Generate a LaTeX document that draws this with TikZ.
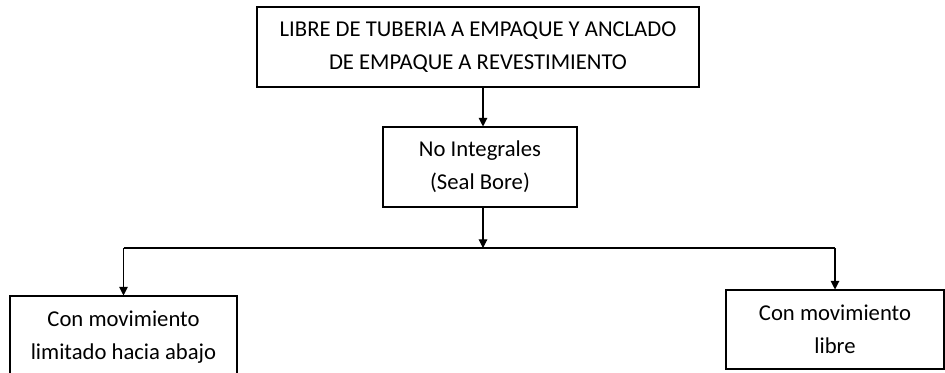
\documentclass[tikz,border=0pt]{standalone}
\usepackage{fontspec}
\setmainfont{Carlito}
\usetikzlibrary{arrows.meta}

\begin{document}
\begin{tikzpicture}[x=0.75pt, y=-0.75pt,
        caja/.style={draw, line width=0.8pt, inner sep=0pt, align=center,
            font=\fontsize{17}{25}\selectfont},
        flecha/.style={-{Triangle[length=6.5pt, width=6.5pt]}, line width=0.8pt}]
        \useasboundingbox (0,0) rectangle (945,372);
        \node[caja, minimum width=331.5pt, minimum height=60pt] (libre) at (478,47)
            {LIBRE DE TUBERIA A EMPAQUE Y ANCLADO\\DE EMPAQUE A REVESTIMIENTO};
        \node[caja, minimum width=145.5pt, minimum height=60pt] (nointeg) at (480,167)
            {No Integrales\\(Seal Bore)};
        \node[caja, minimum width=170.25pt, minimum height=61.5pt] (limitado) at (123.5,337)
            {Con movimiento\\limitado hacia abajo};
        \node[caja, minimum width=163.5pt, minimum height=59.25pt] (movlibre) at (835,329.5)
            {Con movimiento\\libre};
        \coordinate (union) at (483,248);
        \draw[flecha] (libre.south -| union) -- (nointeg.north -| union);
        \draw[flecha] (nointeg.south -| union) -- (union);
        \draw[line width=0.8pt] (union -| limitado.north) -- (union -| movlibre.north);
        \draw[flecha] (union -| limitado.north) -- (limitado.north);
        \draw[flecha] (union -| movlibre.north) -- (movlibre.north);
\end{tikzpicture}
\end{document}
